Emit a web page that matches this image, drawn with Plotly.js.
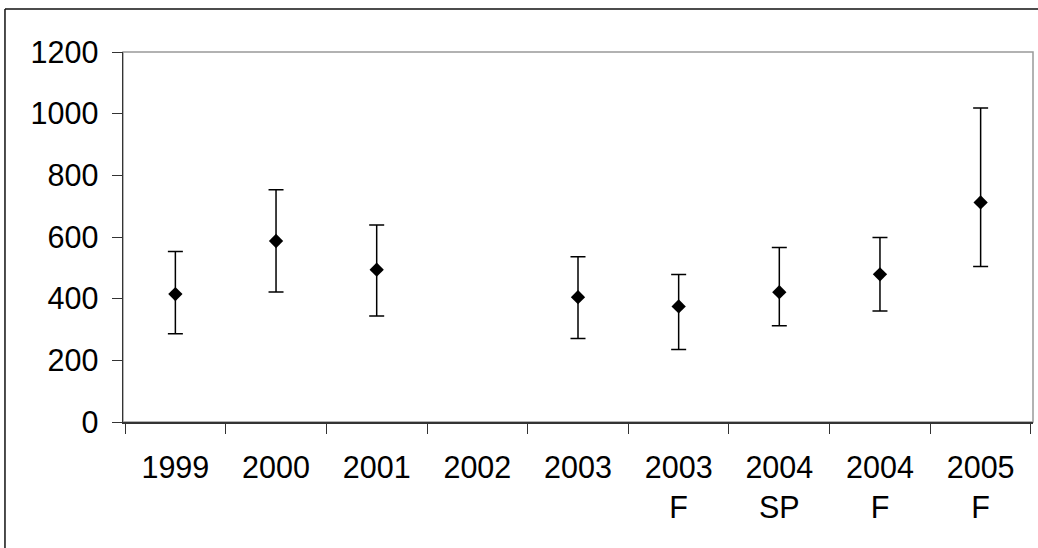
<!DOCTYPE html>
<html>
<head>
<meta charset="utf-8">
<script src="https://cdn.plot.ly/plotly-3.0.1.min.js"></script>
<style>
  html, body { margin: 0; padding: 0; background: #fff; }
  #chart { width: 1038px; height: 548px; }
</style>
</head>
<body>
<div id="chart"></div>
<script>
// Data
const categories = ['1999', '2000', '2001', '2002', '2003', '2003 F', '2004 SP', '2004 F', '2005 F'];
const tickLabels = ['1999', '2000', '2001', '2002', '2003', '2003<br>F', '2004<br>SP', '2004<br>F', '2005<br>F'];
const values = [415, 587, 494, null, 405, 375, 421, 479, 712];
const upper  = [553, 753, 639, null, 536, 478, 566, 598, 1018];
const lower  = [286, 422, 344, null, 271, 235, 312, 360, 504];
const yTicks = [0, 200, 400, 600, 800, 1000, 1200];

const errPlus = values.map((v, i) => v === null ? null : upper[i] - v);
const errMinus = values.map((v, i) => v === null ? null : v - lower[i]);

const FONT = 'Liberation Sans, Arial, sans-serif';

const trace = {
  type: 'scatter',
  mode: 'markers',
  x: categories,
  y: values,
  marker: { symbol: 'diamond', size: 11, color: '#000' },
  error_y: {
    type: 'data',
    symmetric: false,
    array: errPlus,
    arrayminus: errMinus,
    color: '#000',
    thickness: 1.5,
    width: 7.5
  },
  hoverinfo: 'x+y',
  showlegend: false
};

const layout = {
  width: 1038,
  height: 548,
  margin: { l: 123, r: 5, t: 52, b: 126 },
  paper_bgcolor: '#fff',
  plot_bgcolor: '#fff',
  font: { family: FONT, size: 30, color: '#000' },
  xaxis: {
    type: 'category',
    categoryorder: 'array',
    categoryarray: categories,
    tickvals: categories,
    ticktext: tickLabels,
    tickson: 'boundaries',
    ticks: 'outside',
    ticklen: 10,
    tickwidth: 1,
    tickcolor: '#333',
    showline: true,
    linecolor: '#333',
    linewidth: 1.5,
    showgrid: false,
    zeroline: false,
    tickfont: { family: FONT, size: 30.5, color: '#000' },
    ticklabelstandoff: 18,
    fixedrange: true
  },
  yaxis: {
    range: [0, 1200],
    tickvals: yTicks,
    ticktext: yTicks.map(String),
    ticks: 'outside',
    ticklen: 10,
    tickwidth: 1,
    tickcolor: '#333',
    showline: true,
    linecolor: '#333',
    linewidth: 1.5,
    showgrid: false,
    zeroline: false,
    tickfont: { family: FONT, size: 30.5, color: '#000' },
    ticklabelstandoff: 7,
    fixedrange: true
  },
  shapes: [
    // light grey frame of plot area (top & right)
    { type: 'rect', xref: 'paper', yref: 'paper', x0: 0, x1: 1, y0: 0, y1: 1,
      line: { color: '#999', width: 1.5 }, layer: 'below' },
    // outer chart border (left & top edges visible)
    { type: 'line', xref: 'paper', yref: 'paper', x0: -0.1297, x1: 1.01, y0: 1.116, y1: 1.116,
      line: { color: '#111', width: 1.5 } },
    { type: 'line', xref: 'paper', yref: 'paper', x0: -0.1297, x1: -0.1297, y0: 1.116, y1: -0.35,
      line: { color: '#111', width: 1.5 } }
  ]
};

Plotly.newPlot('chart', [trace], layout, { displayModeBar: false, staticPlot: true });
</script>
</body>
</html>
